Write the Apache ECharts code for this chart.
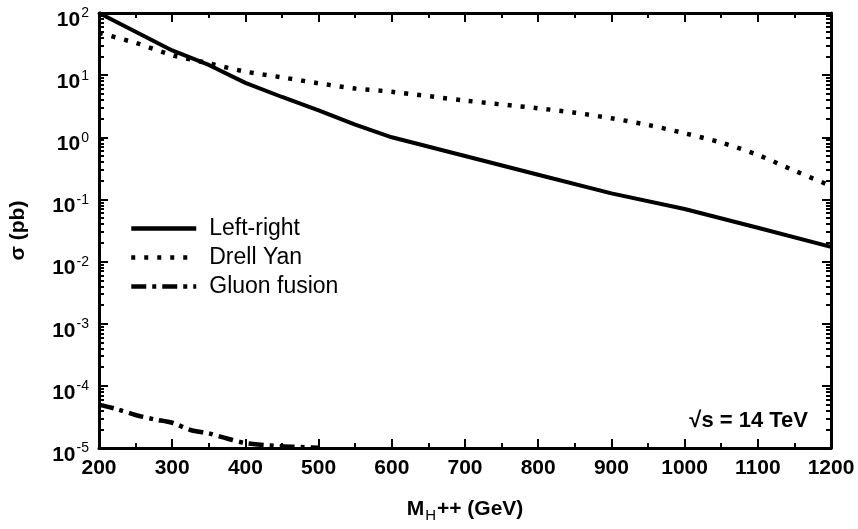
<!DOCTYPE html>
<html>
<head>
<meta charset="utf-8">
<script src="https://cdn.jsdelivr.net/npm/echarts@6/dist/echarts.min.js"></script>
<style>
html,body{margin:0;padding:0;background:#fff;}
#chart{width:858px;height:529px;}
</style>
</head>
<body>
<div id="chart"></div>
<script>
// ---- data ----
const massLR  = [200, 250, 300, 350, 400, 450, 500, 550, 600, 700, 800, 900, 1000, 1100, 1200];
const sigmaLR = [100, 50, 25, 14.6, 7.5, 4.45, 2.7, 1.6, 1.0, 0.5, 0.25, 0.125, 0.07, 0.035, 0.0172];

const massDY  = [200, 250, 300, 350, 400, 450, 500, 550, 600, 700, 800, 850, 900, 950, 1000, 1050, 1100, 1150, 1200];
const sigmaDY = [48, 33, 21, 15.5, 11.4, 9.2, 7.4, 6.1, 5.4, 3.9, 2.93, 2.49, 2.02, 1.58, 1.16, 0.82, 0.52, 0.29, 0.165];

const massGF  = [200, 225, 250, 275, 300, 325, 350, 375, 400, 450, 500];
const sigmaGF = [5.0e-5, 4.2e-5, 3.4e-5, 2.9e-5, 2.55e-5, 1.95e-5, 1.72e-5, 1.42e-5, 1.2e-5, 1.07e-5, 1.01e-5];

const seriesNames = ['Left-right', 'Drell Yan', 'Gluon fusion'];
const xTicks = [200, 300, 400, 500, 600, 700, 800, 900, 1000, 1100, 1200];
const yExponents = [-5, -4, -3, -2, -1, 0, 1, 2];
const annotation = '√s = 14 TeV';

// ---- build ----
const pairs = (xs, ys) => xs.map((x, i) => [x, ys[i]]);
const minorVals = [];
for (let e = -5; e < 2; e++) for (let k = 2; k <= 9; k++) minorVals.push(k * Math.pow(10, e));
const majorVals = yExponents.map(e => Math.pow(10, e));

const FONT = 'Liberation Sans, Arial, sans-serif';
const axisLineStyle = { show: true, lineStyle: { color: '#000', width: 3 } };

function yAx(position, isMinor) {
  const main = position === 'left' && !isMinor;
  return {
    type: 'log', logBase: 10, min: 1e-5, max: 100, position: position,
    axisLine: isMinor ? { show: false } : axisLineStyle,
    axisTick: { show: true, inside: true, length: isMinor ? 5 : 9,
      lineStyle: { color: '#000', width: 2 }, customValues: isMinor ? minorVals : majorVals },
    axisLabel: main ? {
      show: true, margin: 10, customValues: majorVals, padding: [14, 0, 0, 0],
      formatter: v => '{b|10}{e|' + Math.round(Math.log10(v)) + '}',
      rich: {
        b: { fontFamily: FONT, fontWeight: 'bold', fontSize: 21, color: '#000' },
        e: { fontFamily: FONT, fontSize: 14, color: '#000', padding: [0, 0, 13, 1] }
      }
    } : { show: false },
    splitLine: { show: false },
    name: main ? 'σ (pb)' : '',
    nameLocation: 'middle', nameRotate: 90, nameGap: 70,
    nameTextStyle: { fontFamily: FONT, fontWeight: 'bold', fontSize: 21, color: '#000' }
  };
}

function xAx(position) {
  const main = position === 'bottom';
  return {
    type: 'value', min: 200, max: 1200, interval: 100, position: position,
    axisLine: axisLineStyle,
    axisTick: { show: true, inside: true, length: 9, lineStyle: { color: '#000', width: 2 } },
    minorTick: { show: true, splitNumber: 2, length: 5, lineStyle: { color: '#000', width: 2 } },
    axisLabel: main ? {
      show: true, margin: 10, fontFamily: FONT, fontWeight: 'bold', fontSize: 21, color: '#000',
      formatter: v => (xTicks.indexOf(v) >= 0 ? String(v) : '')
    } : { show: false },
    splitLine: { show: false }, minorSplitLine: { show: false },
    name: main ? '{m|M}{s|H}{m|++ (GeV)}' : '',
    nameLocation: 'middle', nameGap: 48,
    nameTextStyle: {
      rich: {
        m: { fontFamily: FONT, fontWeight: 'bold', fontSize: 21, color: '#000' },
        s: { fontFamily: FONT, fontSize: 15, color: '#000', padding: [12, 1, 0, 1] }
      }
    }
  };
}

const chart = echarts.init(document.getElementById('chart'), null, { renderer: 'canvas' });
chart.setOption({
  backgroundColor: '#fff',
  animation: false,
  grid: { left: 98, right: 27, top: 13, bottom: 81, containLabel: false },
  xAxis: [xAx('bottom'), xAx('top')],
  yAxis: [yAx('left', false), yAx('left', true), yAx('right', false), yAx('right', true)],
  legend: {
    orient: 'vertical', left: 124, top: 211, itemWidth: 65, itemHeight: 14, itemGap: 4,
    data: seriesNames,
    itemStyle: { opacity: 0 },
    lineStyle: { width: 4.5 },
    textStyle: { fontFamily: FONT, fontSize: 23, lineHeight: 25, color: '#000', padding: [0, 0, 0, 8] }
  },
  graphic: [{
    type: 'text', right: 50, top: 410,
    style: { text: annotation, font: 'bold 22px ' + FONT, fill: '#000' }
  }],
  series: [
    { name: seriesNames[0], type: 'line', data: pairs(massLR, sigmaLR), symbol: 'none',
      itemStyle: { color: '#000' }, lineStyle: { color: '#000', width: 4, type: 'solid' } },
    { name: seriesNames[1], type: 'line', data: pairs(massDY, sigmaDY), symbol: 'none', smooth: 0.3,
      itemStyle: { color: '#000' }, lineStyle: { color: '#000', width: 4.5, type: [4, 9] } },
    { name: seriesNames[2], type: 'line', data: pairs(massGF, sigmaGF), symbol: 'none', smooth: 0.3,
      itemStyle: { color: '#000' }, lineStyle: { color: '#000', width: 4.5, type: [15, 6, 4, 6] } }
  ]
});
</script>
</body>
</html>
